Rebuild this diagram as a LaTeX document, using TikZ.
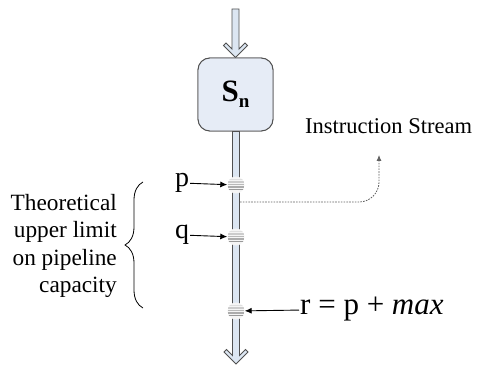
\documentclass[tikz,border=0pt]{standalone}
\usepackage{fontspec}
\setmainfont{Liberation Serif}
\usepackage{tikz}
\usetikzlibrary{arrows.meta,calc,positioning,decorations.pathreplacing}
\definecolor{pfill}{HTML}{DCE6F2}
\definecolor{pedge}{HTML}{505050}
\definecolor{bfill}{HTML}{E6ECF6}
\tikzset{
  pipe/.style={fill=pfill, draw=pedge, line width=0.9pt, line join=miter},
  stagebox/.style={rounded corners=12pt, draw=pedge, fill=bfill, line width=0.9pt,
                   minimum width=75pt, minimum height=73pt, inner sep=0pt},
  token/.style={circle, minimum size=17pt, inner sep=0pt, fill=gray!8,
                path picture={
                  \foreach \k/\c in {5.5/gray!25, 3/gray!40, 0.5/gray!55, -2/gray!65, -4.5/gray!80}
                    \draw[\c, line width=1.1pt]
                      ([yshift=\k pt]path picture bounding box.west) --
                      ([yshift=\k pt]path picture bounding box.east);
                }},
  tag/.style={font=\fontsize{28}{28}\selectfont, inner sep=1pt},
  note/.style={font=\fontsize{22.5}{27.5}\selectfont, align=right, inner sep=0pt},
  ptr/.style={-{Latex[length=7pt,width=6pt]}, line width=0.9pt},
  flow/.style={gray!75!black, line width=0.8pt, dash pattern=on 1.6pt off 1.2pt,
               rounded corners=20pt, -{Latex[length=6pt,width=5pt]}},
  curly/.style={decorate, decoration={brace, amplitude=18pt}, line width=0.8pt},
}
% hollow pipe with open chevron head, from #1 down to tip #2
\newcommand{\pipearrow}[2]{%
  \filldraw[pipe] let \p1=(#1), \p2=(#2) in
    (\x2-3.5pt,\y1) -- (\x2-3.5pt,\y2+8.5pt) -- (\x2-9.5pt,\y2+14.5pt) --
    (\x2-12pt,\y2+12pt) -- (\x2,\y2) -- (\x2+12pt,\y2+12pt) --
    (\x2+9.5pt,\y2+14.5pt) -- (\x2+3.5pt,\y2+8.5pt) -- (\x2+3.5pt,\y1) -- cycle;}

\begin{document}
\begin{tikzpicture}[x=1pt,y=-1pt]
  \useasboundingbox (0,0) rectangle (482,366);

  \coordinate (feed)  at (236,9);
  \coordinate (drain) at (236,364);
  \node[stagebox] (sn) at (235.5,94.5) {};

  \pipearrow{sn.south}{drain}
  \pipearrow{feed}{sn.north}

  \node[stagebox] at (sn) {{\fontsize{31}{31}\selectfont\bfseries S\raisebox{-6pt}{\fontsize{19}{19}\selectfont n}}};

  % tokens on the stream
  \node[token] (tp) at (236,185) {};
  \node[token] (tq) at (236,237) {};
  \node[token] (tr) at (236,311) {};

  \node[tag] (lp) at (182,183) {p};
  \node[tag] (lq) at (182,235) {q};
  \node[tag, anchor=west, font=\fontsize{31}{31}\selectfont] (lr) at (299,309) {r = p + \textit{max}};

  \draw[ptr] (lp) -- (tp);
  \draw[ptr] (lq) -- (tq);
  \draw[ptr] (lr) -- (tr);

  % instruction stream pointer
  \coordinate (tap) at (240,202);
  \coordinate (streamtip) at (379,155);
  \draw[flow] (tap) -| (streamtip);
  \node[note, anchor=base west] (is) at (305,134) {Instruction Stream};

  % capacity brace
  \coordinate (bbot) at (143,308);
  \coordinate (btop) at (143,182);
  \draw[curly] (bbot) -- (btop);
  \node[note, anchor=east, font=\fontsize{23.3}{27.5}\selectfont] (cap) at (117,246)
    {Theoretical\\upper limit\\on pipeline\\capacity};

\end{tikzpicture}
\end{document}
